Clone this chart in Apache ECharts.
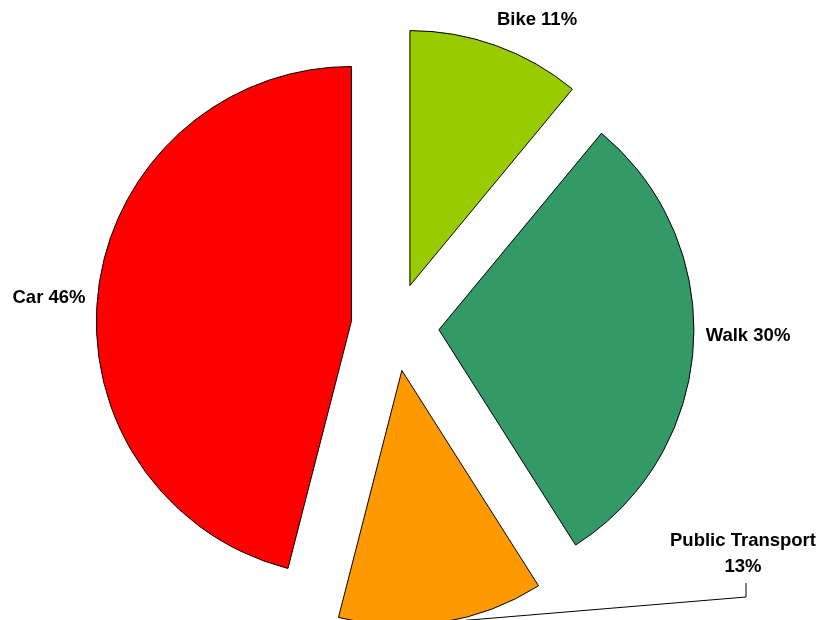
<!DOCTYPE html>
<html>
<head>
<meta charset="utf-8">
<script src="https://cdn.jsdelivr.net/npm/echarts@6/dist/echarts.min.js"></script>
<style>
html,body{margin:0;padding:0;background:#fff;}
#chart{width:824px;height:620px;}
</style>
</head>
<body>
<div id="chart"></div>
<script>
var categories = ['Bike', 'Walk', 'Public Transport', 'Car'];
var values = [11, 30, 13, 46];
var colors = ['#99CC00', '#339966', '#FF9900', '#FF0000'];

// label anchor positions (style: centre of each label block)
var labelPos = [
  {x: 537, y: 20},
  {x: 748, y: 336},
  {x: 743, y: 554},
  {x: 49, y: 298}
];
var OFFSET = 44;

var total = values.reduce(function (a, b) { return a + b; }, 0);
var cum = 0;
var selOffsets = values.map(function (v) {
  var mid = -Math.PI / 2 + 2 * Math.PI * (cum + v / 2) / total;
  cum += v;
  return [Math.cos(mid) * OFFSET, Math.sin(mid) * OFFSET];
});

var data = categories.map(function (c, i) {
  var twoLine = c.length > 10;
  return {
    name: c,
    value: values[i],
    selected: true,
    itemStyle: {color: colors[i]},
    labelLine: {show: twoLine}
  };
});

var chart = echarts.init(document.getElementById('chart'));
chart.setOption({
  animation: false,
  backgroundColor: '#ffffff',
  series: [{
    type: 'pie',
    center: [395, 327],
    radius: 255,
    startAngle: 90,
    clockwise: true,
    selectedMode: 'multiple',
    selectedOffset: OFFSET,
    avoidLabelOverlap: false,
    data: data,
    itemStyle: {borderColor: '#000', borderWidth: 1},
    emphasis: {disabled: true},
    label: {
      show: true,
      position: 'outside',
      color: '#000',
      fontFamily: 'Liberation Sans, Arial, sans-serif',
      fontWeight: 'bold',
      fontSize: 18.5,
      formatter: function (p) {
        return p.name.length > 10
          ? '{c|' + p.name + '}\n{c|' + p.percent + '%}'
          : p.name + ' ' + p.percent + '%';
      },
      rich: {
        c: {
          width: 170,
          align: 'center',
          lineHeight: 26,
          color: '#000',
          fontFamily: 'Liberation Sans, Arial, sans-serif',
          fontWeight: 'bold',
          fontSize: 18.5
        }
      }
    },
    labelLine: {
      lineStyle: {color: '#000', width: 1}
    },
    labelLayout: function (params) {
      var i = params.dataIndex;
      var pos = labelPos[i];
      var r = params.labelRect;
      var o = selOffsets[i];
      var res = {
        dx: pos.x - (r.x + r.width / 2) - o[0],
        dy: pos.y - (r.y + r.height / 2) - o[1]
      };
      if (categories[i] === 'Public Transport' && params.labelLinePoints) {
        var s = params.labelLinePoints[0];
        res.labelLinePoints = [s, [746 - o[0], 597 - o[1]], [746 - o[0], 583 - o[1]]];
      }
      return res;
    }
  }]
});
</script>
</body>
</html>
